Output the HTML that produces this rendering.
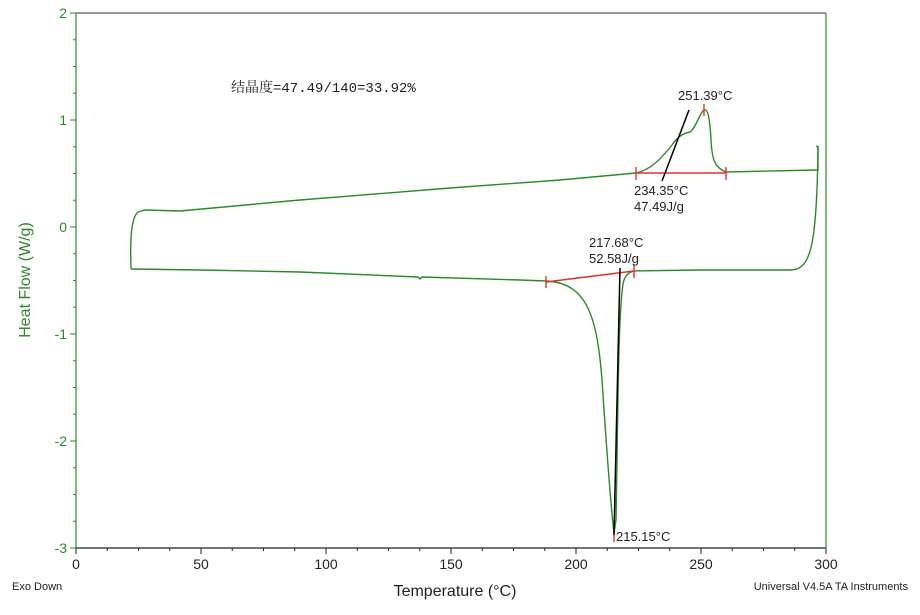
<!DOCTYPE html>
<html><head><meta charset="utf-8"><style>html,body{margin:0;padding:0;background:#fff}svg{display:block}</style></head><body>
<svg width="920" height="615" viewBox="0 0 920 615" xmlns="http://www.w3.org/2000/svg" font-family="Liberation Sans, sans-serif">
<rect width="920" height="615" fill="#fff"/>
<line x1="76" y1="13" x2="826" y2="13" stroke="#333" stroke-width="1"/>
<line x1="76" y1="548" x2="826" y2="548" stroke="#222" stroke-width="1.2"/>
<line x1="76" y1="13" x2="76" y2="548" stroke="#2a8a2a" stroke-width="1.2"/>
<line x1="826" y1="13" x2="826" y2="548" stroke="#2a8a2a" stroke-width="1.2"/>
<g stroke="#2a8a2a" stroke-width="1">
<path d="M70 13H76M70 120H76M70 227H76M70 334H76M70 441H76M70 548H76"/>
<path d="M73 39.75H76M73 66.5H76M73 93.25H76M73 146.75H76M73 173.5H76M73 200.25H76M73 253.75H76M73 280.5H76M73 307.25H76M73 360.75H76M73 387.5H76M73 414.25H76M73 467.75H76M73 494.5H76M73 521.25H76"/>
</g>
<g stroke="#222" stroke-width="1">
<path d="M76 548V554M201 548V554M326 548V554M451 548V554M576 548V554M701 548V554M826 548V554"/>
<path d="M107.25 548V551M138.5 548V551M169.75 548V551M232.25 548V551M263.5 548V551M294.75 548V551M357.25 548V551M388.5 548V551M419.75 548V551M482.25 548V551M513.5 548V551M544.75 548V551M607.25 548V551M638.5 548V551M669.75 548V551M732.25 548V551M763.5 548V551M794.75 548V551"/>
</g>
<g fill="#2a8a2a" font-size="14" text-anchor="end">
<text x="67" y="18">2</text><text x="67" y="125">1</text><text x="67" y="232">0</text><text x="67" y="339">-1</text><text x="67" y="446">-2</text><text x="67" y="553">-3</text>
</g>
<g fill="#222" font-size="14" text-anchor="middle">
<text x="76" y="569">0</text><text x="201" y="569">50</text><text x="326" y="569">100</text><text x="451" y="569">150</text><text x="576" y="569">200</text><text x="701" y="569">250</text><text x="826" y="569">300</text>
</g>
<text x="455" y="596" font-size="16" text-anchor="middle" fill="#222">Temperature (°C)</text>
<text transform="translate(30,280) rotate(-90)" font-size="16" text-anchor="middle" fill="#2a8a2a">Heat Flow (W/g)</text>
<text x="12" y="590" font-size="11" fill="#222">Exo Down</text>
<text x="908" y="590" font-size="11" text-anchor="end" fill="#222">Universal V4.5A TA Instruments</text>
<text x="231" y="92" font-size="14" fill="#222" font-family="Liberation Mono, Noto Serif CJK SC, serif">结晶度=47.49/140=33.92%</text>
<g fill="none" stroke="#2a8a2a" stroke-width="1.4">
<path d="M131 269 C130 240 131 218 138 212 L145 210 L180 211 L300 200 L450 188 L560 180 L636 173 C650 170 660 160 672 145 C678 136 684 133 690 132 C696 128 700 112 704 110 C708 108 710 120 711 140 C712 162 716 168 726 172 L816 170 L818 170 L818 147 L816 146"/>
<path d="M131 269 L200 270 L300 272 L418 277 L420 279 L422 277 L520 280 L546 281 C588 283 597 318 602 380 C606 440 610 500 614 533 L616 520 C618 420 618 300 624 280 C626 274 630 272 634 271 L700 270 L790 270 C810 270 817 250 818 146"/>
</g>
<g stroke="#e23030" stroke-width="1.4" fill="none">
<path d="M636 173H726M636 167V180M726 167V180M704 104V116"/>
<path d="M546 282L634 271M546 276V288M634 265V278M614 530V542"/>
</g>
<g stroke="#000" stroke-width="1.5">
<line x1="662" y1="181" x2="689" y2="110"/>
<line x1="620" y1="268" x2="614" y2="535"/>
</g>
<g fill="#222" font-size="13">
<text x="678" y="100">251.39°C</text>
<text x="634" y="195">234.35°C</text>
<text x="634" y="211">47.49J/g</text>
<text x="589" y="247">217.68°C</text>
<text x="589" y="263">52.58J/g</text>
<text x="616" y="541">215.15°C</text>
</g>
</svg>
</body></html>
